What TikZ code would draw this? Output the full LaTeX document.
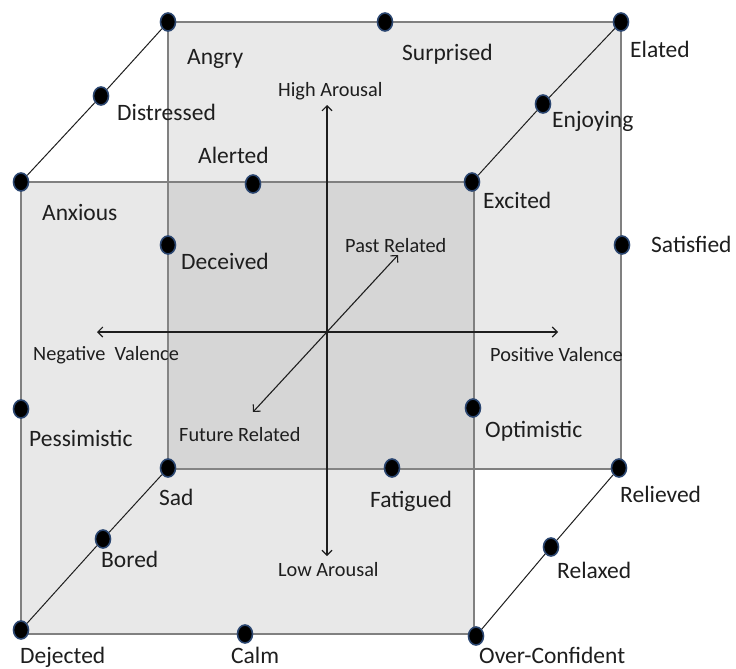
\documentclass[tikz,border=0pt]{standalone}
\usepackage{fontspec}
\setmainfont{Carlito}
\usetikzlibrary{shapes.geometric,arrows.meta}
\definecolor{edgegray}{HTML}{808080}
\definecolor{backfill}{HTML}{E9E9E9}
\definecolor{frontfill}{HTML}{969696}
\definecolor{dotrim}{HTML}{2B4670}
\definecolor{ink}{HTML}{1E1E1E}
\begin{document}
\begin{tikzpicture}[x=1pt,y=-1pt,
  backface/.style={fill=backfill,draw=edgegray,line width=1.6pt},
  frontface/.style={fill=frontfill,fill opacity=0.22,draw=none},
  frontedge/.style={draw=edgegray,line width=1.6pt},
  depthline/.style={draw=ink,line width=1pt},
  axisline/.style={draw=ink,line width=1.1pt,{Straight Barb[length=5pt,width=10pt]}-{Straight Barb[length=5pt,width=10pt]}},
  dot/.style={ellipse,fill=black,draw=dotrim,line width=1.6pt,minimum width=15pt,minimum height=18pt,inner sep=0pt},
  emo/.style={anchor=base west,inner sep=0pt,text=ink,font=\fontsize{23.5pt}{26pt}\selectfont},
  axlabel/.style={anchor=base west,inner sep=0pt,text=ink,font=\fontsize{20.3pt}{23pt}\selectfont}]
\useasboundingbox (0,0) rectangle (736,669);

% back face of the cube
\path[backface] (168,22) rectangle (621,469);
% front face, translucent
\path[frontface] (21,182) rectangle (474,634);
\path[frontedge] (21,182) rectangle (474,634);

% corner and edge markers
\node[dot] (bTL) at (168,22) {};
\node[dot] (dSurprised) at (385,22) {};
\node[dot] (bTR) at (621,22) {};
\node[dot] (dDistressed) at (101,96) {};
\node[dot] (dEnjoying) at (543,104) {};
\node[dot] (fTL) at (21,182) {};
\node[dot] (dAlerted) at (253,184) {};
\node[dot] (fTR) at (472,182) {};
\node[dot] (dDeceived) at (168,245) {};
\node[dot] (dSatisfied) at (622,245) {};
\node[dot] (dPessimistic) at (21,409) {};
\node[dot] (dOptimistic) at (473,408) {};
\node[dot] (bBL) at (168,468) {};
\node[dot] (dFatigued) at (392,468) {};
\node[dot] (bBR) at (619,468) {};
\node[dot] (dBored) at (103,539) {};
\node[dot] (dRelaxed) at (551,547) {};
\node[dot] (fBL) at (21,630) {};
\node[dot] (dCalm) at (245,634) {};
\node[dot] (fBR) at (476,636) {};

% depth edges joining the two faces
\draw[depthline] (fTL) -- (dDistressed) -- (bTL);
\draw[depthline] (fTR) -- (dEnjoying) -- (bTR);
\draw[depthline] (fBL) -- (dBored) -- (bBL);
\draw[depthline] (fBR) -- (dRelaxed) -- (bBR);

% axes
\coordinate (arUp) at (327,105);
\coordinate (arDown) at (327,556);
\coordinate (vaNeg) at (97,332);
\coordinate (vaPos) at (558,332);
\coordinate (tPast) at (398,255);
\coordinate (tFuture) at (253,412);
\draw[axisline] (arDown) -- (arUp);
\draw[axisline] (vaNeg) -- (vaPos);
\draw[axisline] (tFuture) -- (tPast);

% axis labels
\node[axlabel] (lHigh) at (278,96) {High Arousal};
\node[axlabel] (lLow) at (278,576) {Low Arousal};
\node[axlabel] (lNeg) at (33,360) {Negative\ \ Valence};
\node[axlabel] (lPos) at (490,361) {Positive Valence};
\node[axlabel] (lPast) at (345,252) {Past Related};
\node[axlabel] (lFuture) at (179,441) {Future Related};

% emotion labels
\node[emo] at (187,65) {Angry};
\node[emo] at (402,61) {Surprised};
\node[emo] at (630,58) {Elated};
\node[emo] at (117,120) {Distressed};
\node[emo] at (552,127) {Enjoying};
\node[emo] at (198,163) {Alerted};
\node[emo] at (483,208) {Excited};
\node[emo] at (42,220) {Anxious};
\node[emo] at (181,269) {Deceived};
\node[emo] at (651,252) {Satisfied};
\node[emo] at (485,437) {Optimistic};
\node[emo] at (29,446) {Pessimistic};
\node[emo] at (159,505) {Sad};
\node[emo] at (370,507) {Fatigued};
\node[emo] at (620,502) {Relieved};
\node[emo] at (101,567) {Bored};
\node[emo] at (557,578) {Relaxed};
\node[emo] at (20,663) {Dejected};
\node[emo] at (231,663) {Calm};
\node[emo] at (479,663) {Over-Confident};
\end{tikzpicture}
\end{document}
